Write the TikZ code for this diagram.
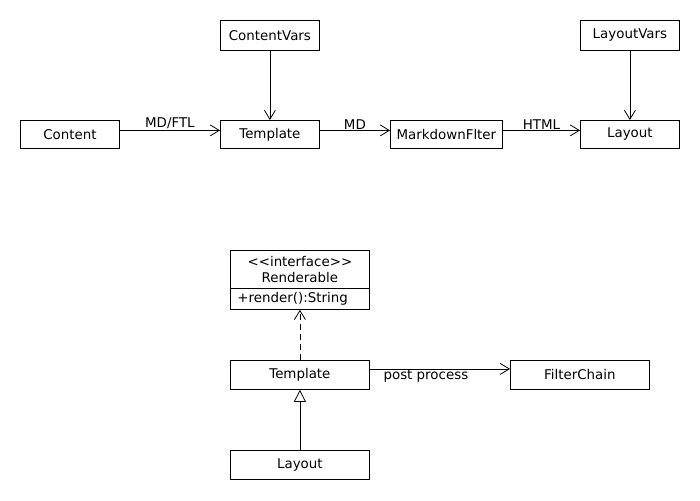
\documentclass[tikz,border=0pt]{standalone}
\usepackage{fontspec}
\setmainfont{DejaVu Sans}
\usetikzlibrary{arrows.meta,positioning}
\begin{document}
\begin{tikzpicture}[x=1pt,y=-1pt,
  every node/.style={font=\fontsize{13.4}{16}\selectfont},
  box/.style={draw,line width=0.8pt,anchor=north west,inner sep=0pt,align=center},
  conn/.style={line width=0.8pt},
  open/.style={conn,-{Straight Barb[length=9pt,width=11pt,line width=0.8pt]}},
  realize/.style={open,dash pattern=on 6pt off 4pt},
  inherit/.style={conn,-{Triangle[open,length=12pt,width=12pt,line width=0.8pt]}},
  lbl/.style={inner sep=1pt}]
\useasboundingbox (0,0) rectangle (700,500);
% top row
\node[box,minimum width=99pt,minimum height=28pt] (content) at (20,120) {Content};
\node[box,minimum width=99pt,minimum height=28pt] (template) at (220,120) {Template};
\node[box,minimum width=99pt,minimum height=30pt] (contentvars) at (220,20) {ContentVars};
\node[box,minimum width=112pt,minimum height=28pt] (mdf) at (390,120) {MarkdownFlter};
\node[box,minimum width=99pt,minimum height=28pt] (layout) at (580,120) {Layout};
\node[box,minimum width=99pt,minimum height=30pt] (layoutvars) at (580,20) {LayoutVars};

\draw[open] ([yshift=4pt]content.east) -- node[lbl,above] {MD/FTL} ([yshift=4pt]template.west);
\draw[open] ([yshift=4pt]template.east) -- node[lbl,above] {MD} ([yshift=4pt]mdf.west);
\draw[open] ([yshift=4pt]mdf.east) -- node[lbl,above] {HTML} ([yshift=4pt]layout.west);
\draw[open] (contentvars.south) -- (template.north);
\draw[open] (layoutvars.south) -- (layout.north);

% bottom (class diagram)
\node[box,minimum width=139pt,minimum height=38pt,text depth=-2pt] (rend) at (230,250)
  {\textless\kern0pt\textless\kern0pt interface\textgreater\kern0pt\textgreater\\Renderable};
\node[box,minimum height=21pt,text width=125pt,inner xsep=7pt,align=left] (rendop) at (230,288)
  {+render():String};
\node[box,minimum width=139pt,minimum height=29pt] (template2) at (230,360) {Template};
\node[box,minimum width=139pt,minimum height=29pt] (filterchain) at (510,360) {FilterChain};
\node[box,minimum width=139pt,minimum height=29pt] (layout2) at (230,450) {Layout};

\draw[realize] (template2.north) -- (rendop.south);
\draw[open] ([yshift=6pt]template2.east) -- node[lbl,below,pos=0.4] {post process} ([yshift=6pt]filterchain.west);
\draw[inherit] (layout2.north) -- (template2.south);
\end{tikzpicture}
\end{document}
